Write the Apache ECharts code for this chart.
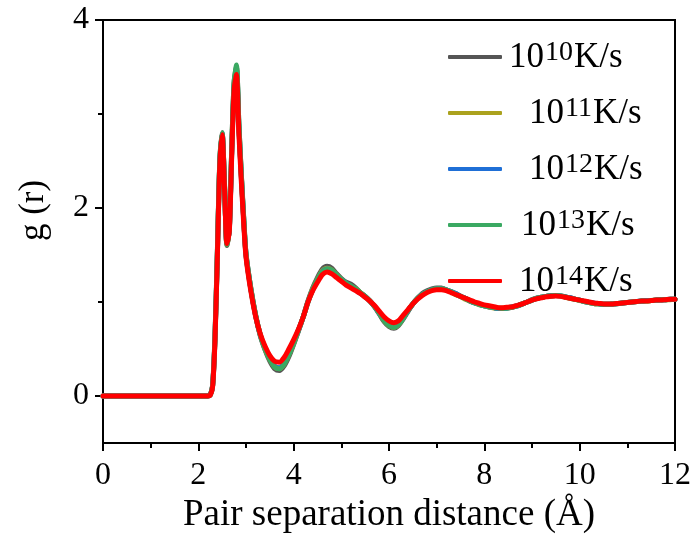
<!DOCTYPE html>
<html>
<head>
<meta charset="utf-8">
<script src="https://cdn.jsdelivr.net/npm/echarts@6/dist/echarts.min.js"></script>
<style>html,body{margin:0;padding:0;background:#fff}#chart{width:694px;height:539px}</style>
</head>
<body>
<div id="chart"></div>
<script>
// Pair separation distance r (Å)
const rValues = [0, 2.2, 2.25, 2.3, 2.35, 2.4, 2.45, 2.5, 2.55, 2.6, 2.65, 2.7, 2.75, 2.8, 2.85, 2.9, 2.95, 3.0,
  3.1, 3.2, 3.3, 3.4, 3.5, 3.6, 3.7, 3.8, 3.9, 4.0,
  4.1, 4.2, 4.3, 4.4, 4.5, 4.6, 4.7, 4.8, 4.9, 5.0,
  5.1, 5.2, 5.3, 5.4, 5.5, 5.6, 5.7, 5.8, 5.9, 6.0,
  6.1, 6.2, 6.3, 6.4, 6.5, 6.6, 6.7, 6.8, 6.9, 7.0,
  7.1, 7.2, 7.3, 7.4, 7.5, 7.6, 7.7, 7.8, 7.9, 8.0,
  8.1, 8.2, 8.3, 8.4, 8.5, 8.6, 8.7, 8.8, 8.9, 9.0,
  9.1, 9.2, 9.3, 9.4, 9.5, 9.6, 9.7, 9.8, 9.9, 10.0,
  10.1, 10.2, 10.3, 10.4, 10.5, 10.6, 10.7, 10.8, 10.9, 11.0,
  11.1, 11.2, 11.3, 11.4, 11.5, 11.6, 11.7, 11.8, 11.9, 12.0];

// g(r) for cooling rate 10^10 K/s
const gRate10 = [0, 0, 0.01, 0.12, 0.65, 1.55, 2.5, 2.8, 2.25, 1.6, 1.78, 2.62, 3.33, 3.5, 2.9, 2.38, 1.92, 1.52,
  1.15, 0.86, 0.64, 0.49, 0.37, 0.29, 0.27, 0.32, 0.42, 0.55,
  0.69, 0.84, 1.01, 1.15, 1.26, 1.35, 1.38, 1.36, 1.3, 1.25,
  1.21, 1.19, 1.15, 1.1, 1.06, 1.01, 0.95, 0.87, 0.79, 0.74,
  0.72, 0.75, 0.82, 0.9, 0.98, 1.04, 1.09, 1.12, 1.14, 1.15,
  1.15, 1.13, 1.11, 1.09, 1.06, 1.04, 1.01, 0.99, 0.975, 0.96,
  0.95, 0.94, 0.93, 0.93, 0.935, 0.945, 0.96, 0.98, 1.0, 1.025,
  1.04, 1.05, 1.06, 1.07, 1.07, 1.065, 1.055, 1.045, 1.03, 1.02,
  1.005, 0.995, 0.985, 0.98, 0.975, 0.975, 0.975, 0.98, 0.99, 0.995,
  1.0, 1.005, 1.01, 1.015, 1.015, 1.02, 1.025, 1.025, 1.03, 1.03];

// g(r) for cooling rate 10^11 K/s
const gRate11 = [0, 0, 0.01, 0.11, 0.63, 1.53, 2.48, 2.79, 2.23, 1.61, 1.77, 2.6, 3.3, 3.48, 2.87, 2.36, 1.9, 1.5,
  1.14, 0.86, 0.65, 0.5, 0.39, 0.31, 0.29, 0.34, 0.44, 0.56,
  0.7, 0.84, 1.0, 1.14, 1.24, 1.33, 1.36, 1.34, 1.29, 1.24,
  1.2, 1.17, 1.14, 1.1, 1.06, 1.01, 0.95, 0.88, 0.8, 0.75,
  0.73, 0.76, 0.83, 0.91, 0.98, 1.04, 1.08, 1.11, 1.13, 1.14,
  1.14, 1.13, 1.11, 1.08, 1.06, 1.03, 1.01, 0.99, 0.97, 0.96,
  0.945, 0.935, 0.93, 0.935, 0.94, 0.95, 0.96, 0.98, 1.0, 1.02,
  1.04, 1.05, 1.06, 1.065, 1.07, 1.065, 1.05, 1.04, 1.03, 1.015,
  1.005, 0.995, 0.985, 0.98, 0.975, 0.975, 0.98, 0.985, 0.99, 0.995,
  1.0, 1.005, 1.01, 1.01, 1.015, 1.02, 1.02, 1.025, 1.025, 1.03];

// g(r) for cooling rate 10^12 K/s
const gRate12 = [0, 0, 0.01, 0.11, 0.62, 1.52, 2.47, 2.79, 2.22, 1.62, 1.76, 2.58, 3.29, 3.47, 2.86, 2.35, 1.89, 1.5,
  1.14, 0.86, 0.65, 0.51, 0.4, 0.32, 0.3, 0.35, 0.45, 0.57,
  0.7, 0.84, 1.0, 1.13, 1.23, 1.32, 1.35, 1.33, 1.28, 1.24,
  1.2, 1.17, 1.13, 1.09, 1.06, 1.01, 0.95, 0.88, 0.81, 0.76,
  0.74, 0.77, 0.83, 0.91, 0.98, 1.04, 1.08, 1.11, 1.13, 1.14,
  1.14, 1.13, 1.11, 1.09, 1.06, 1.04, 1.01, 0.99, 0.975, 0.96,
  0.95, 0.94, 0.93, 0.93, 0.94, 0.95, 0.96, 0.98, 1.0, 1.02,
  1.04, 1.05, 1.06, 1.065, 1.07, 1.065, 1.055, 1.045, 1.03, 1.02,
  1.005, 0.995, 0.99, 0.98, 0.975, 0.975, 0.98, 0.985, 0.99, 0.995,
  1.0, 1.005, 1.01, 1.015, 1.015, 1.02, 1.02, 1.025, 1.03, 1.03];

// g(r) for cooling rate 10^13 K/s
const gRate13 = [0, 0, 0.01, 0.11, 0.62, 1.53, 2.48, 2.8, 2.23, 1.61, 1.77, 2.62, 3.34, 3.52, 2.9, 2.37, 1.9, 1.51,
  1.15, 0.87, 0.65, 0.5, 0.39, 0.31, 0.29, 0.34, 0.44, 0.56,
  0.7, 0.84, 1.0, 1.13, 1.24, 1.32, 1.35, 1.34, 1.29, 1.24,
  1.2, 1.17, 1.14, 1.1, 1.06, 1.01, 0.95, 0.88, 0.8, 0.75,
  0.73, 0.76, 0.83, 0.91, 0.98, 1.04, 1.08, 1.11, 1.13, 1.14,
  1.14, 1.13, 1.11, 1.08, 1.06, 1.04, 1.01, 0.99, 0.975, 0.96,
  0.95, 0.94, 0.935, 0.93, 0.935, 0.945, 0.96, 0.98, 1.0, 1.02,
  1.04, 1.05, 1.06, 1.065, 1.07, 1.065, 1.055, 1.04, 1.03, 1.02,
  1.005, 0.995, 0.985, 0.98, 0.975, 0.975, 0.98, 0.985, 0.99, 0.995,
  1.0, 1.005, 1.01, 1.01, 1.015, 1.02, 1.025, 1.025, 1.03, 1.03];

// g(r) for cooling rate 10^14 K/s
const gRate14 = [0, 0, 0.01, 0.1, 0.6, 1.5, 2.45, 2.78, 2.2, 1.62, 1.75, 2.55, 3.25, 3.42, 2.8, 2.3, 1.85, 1.48,
  1.12, 0.85, 0.66, 0.53, 0.43, 0.37, 0.36, 0.41, 0.5, 0.6,
  0.71, 0.84, 1.0, 1.12, 1.21, 1.29, 1.32, 1.3, 1.26, 1.22,
  1.18, 1.15, 1.12, 1.09, 1.05, 1.01, 0.96, 0.9, 0.84, 0.8,
  0.78, 0.8, 0.86, 0.92, 0.98, 1.03, 1.07, 1.1, 1.12, 1.13,
  1.13, 1.12, 1.1, 1.08, 1.06, 1.04, 1.02, 1.0, 0.985, 0.97,
  0.96, 0.95, 0.94, 0.94, 0.945, 0.95, 0.965, 0.98, 1.0, 1.02,
  1.035, 1.045, 1.055, 1.06, 1.065, 1.06, 1.05, 1.04, 1.03, 1.02,
  1.01, 1.0, 0.99, 0.985, 0.98, 0.98, 0.98, 0.985, 0.99, 0.995,
  1.0, 1.005, 1.01, 1.01, 1.015, 1.02, 1.02, 1.025, 1.03, 1.03];

const rateExponents = ['10', '11', '12', '13', '14'];
const seriesColors = ['#555555', '#aba21e', '#1f6fd6', '#3aa962', '#ff0000'];
const xTicks = [0, 2, 4, 6, 8, 10, 12];
const yTicks = [0, 2, 4];
const yMinorTicks = [1, 3];

const allData = [gRate10, gRate11, gRate12, gRate13, gRate14];
const legendPads = [2, 22, 22, 14, 12];
const FONT = '"Liberation Serif", "Times New Roman", serif';

const chart = echarts.init(document.getElementById('chart'), null, {renderer: 'canvas'});

const series = allData.map((arr, i) => ({
  name: rateExponents[i],
  type: 'line',
  data: rValues.map((r, j) => [r, arr[j]]),
  showSymbol: false,
  smooth: 0.25,
  lineStyle: {width: 5, color: seriesColors[i], cap: 'round', join: 'round'},
  itemStyle: {color: seriesColors[i]},
  z: 2 + i,
  animation: false
}));

const rich = {
  b: {fontFamily: FONT, fontSize: 35, color: '#000', lineHeight: 36, verticalAlign: 'bottom'},
  s: {fontFamily: FONT, fontSize: 28, color: '#000', lineHeight: 22, verticalAlign: 'top', padding: [0, 1, 0, 1]}
};
legendPads.forEach((p, i) => { rich['p' + i] = {width: p, lineHeight: 36}; });

const option = {
  backgroundColor: '#fff',
  animation: false,
  grid: {left: 103, right: 19, top: 20, bottom: 96, show: true, borderColor: '#000', borderWidth: 2, backgroundColor: 'transparent'},
  legend: {
    orient: 'vertical',
    left: 443,
    top: 34,
    itemWidth: 54,
    itemHeight: 4,
    itemGap: 20,
    icon: 'roundRect',
    data: rateExponents,
    formatter: function (name) {
      const i = rateExponents.indexOf(name);
      return '{p' + i + '|}{b|10}{s|' + name + '}{b|K/s}';
    },
    textStyle: {rich: rich, fontFamily: FONT, fontSize: 35}
  },
  xAxis: {
    type: 'value',
    min: 0, max: 12, interval: 2,
    name: 'Pair separation distance (Å)',
    nameLocation: 'middle',
    nameGap: 49,
    nameTextStyle: {fontFamily: FONT, fontSize: 37, color: '#000'},
    axisLine: {show: true, onZero: false, lineStyle: {color: '#000', width: 2}},
    axisTick: {show: true, inside: false, length: 8, lineStyle: {color: '#000', width: 2}},
    minorTick: {show: true, splitNumber: 2, length: 5, lineStyle: {color: '#000', width: 2}},
    axisLabel: {fontFamily: FONT, fontSize: 32, color: '#000', margin: 17},
    splitLine: {show: false}
  },
  yAxis: [{
    type: 'value',
    min: -0.5, max: 4,
    name: 'g (r)',
    nameLocation: 'middle',
    nameGap: 52,
    nameTextStyle: {fontFamily: FONT, fontSize: 35, color: '#000', padding: [0, 0, 0, 42]},
    axisLine: {show: true, onZero: false, lineStyle: {color: '#000', width: 2}},
    axisTick: {show: true, inside: false, length: 8, customValues: yTicks, lineStyle: {color: '#000', width: 2}},
    axisLabel: {fontFamily: FONT, fontSize: 32, color: '#000', margin: 14, customValues: yTicks},
    splitLine: {show: false}
  }, {
    type: 'value',
    position: 'left',
    min: -0.5, max: 4,
    axisLine: {show: false},
    axisTick: {show: true, inside: false, length: 5, customValues: yMinorTicks, lineStyle: {color: '#000', width: 2}},
    axisLabel: {show: false},
    splitLine: {show: false}
  }],
  series: series
};
chart.setOption(option);
</script>
</body>
</html>
